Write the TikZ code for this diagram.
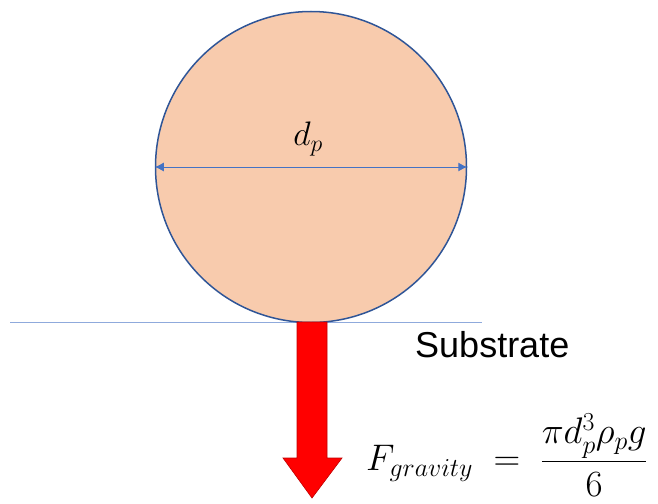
\RequirePackage{fix-cm}
\documentclass[tikz,border=0pt]{standalone}
\usepackage{amsmath}
\usepackage{fontspec}
\setsansfont{Liberation Sans}
\usetikzlibrary{arrows.meta,positioning}
\definecolor{particle}{HTML}{F8CBAD}
\definecolor{rim}{HTML}{2F5597}
\definecolor{dimline}{HTML}{4472C4}
\definecolor{surface}{HTML}{8FAADC}
\definecolor{force}{HTML}{FF0000}
\definecolor{forcerim}{HTML}{C00000}

\begin{document}
\begin{tikzpicture}[x=1pt, y=-1pt, >=Latex]
  \useasboundingbox (0,0) rectangle (658,503);
  % particle and substrate
  \coordinate (sl) at (10,322);
  \coordinate (sr) at (482,322);
  \draw[surface, line width=1pt] (sl) -- (sr);
  \node[circle, draw=rim, line width=1.5pt, fill=particle, minimum size=311pt, inner sep=0pt] (ball) at (311,167) {};
  \draw[<->, dimline, line width=1pt, >={Latex[length=9pt,width=9pt]}] (ball.west) -- (ball.east);
  \node[font=\fontsize{34}{36}\selectfont] (dp) at (308,139) {$d_p$};
  \node[font=\sffamily\fontsize{36}{40}\selectfont, anchor=west, inner sep=0pt] (sub) at (415,345) {Substrate};
  % gravity force
  \coordinate (top) at (312,322);
  \fill[force, draw=forcerim, line width=0.6pt] (297,322) -- (327,322) -- (327,458) -- (342,458)
    -- (312,498) -- (283,458) -- (297,458) -- cycle;
  \node[font=\fontsize{37}{40}\selectfont, anchor=west, inner sep=0pt] (fg) at (366,455)
    {$F_{gravity}\;=\;\dfrac{\pi d_p^3\rho_p g}{6}$};
\end{tikzpicture}
\end{document}
